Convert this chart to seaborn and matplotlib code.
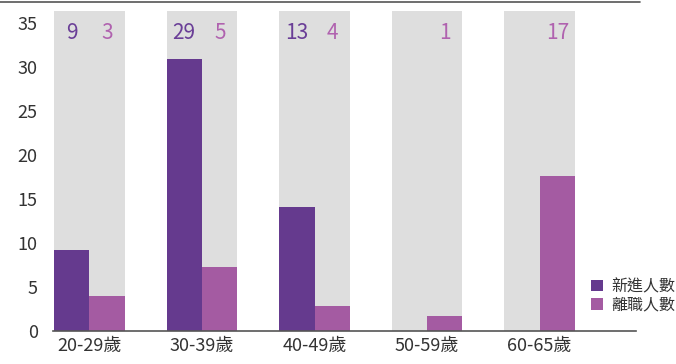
import pandas as pd
import seaborn as sns
import matplotlib.pyplot as plt
from matplotlib.lines import Line2D

# data (bar heights and the printed labels differ in the source)
ages = ['20-29歲', '30-39歲', '40-49歲', '50-59歲', '60-65歲']
new_hires = [9.2, 30.9, 14.1, 0, 0]
leavers = [4.0, 7.3, 2.8, 1.7, 17.6]
new_labels = ['9', '29', '13', '', '']
leave_labels = ['3', '5', '4', '1', '17']
series = ['新進人數', '離職人數']
ymax = 36.4

dark = '#653A8E'
light = '#A45BA2'

sns.set_style('white')
plt.rcParams['font.family'] = ['Noto Sans CJK TC', 'DejaVu Sans']

df = pd.DataFrame({
    'age': ages * 2,
    'count': new_hires + leavers,
    'series': [series[0]] * len(ages) + [series[1]] * len(ages)})

fig = plt.figure(figsize=(6.76, 3.64), dpi=100)
ax = fig.add_axes([0.0784, 0.0907, 0.8626, 0.8791])

# gray background columns
sns.barplot(x=ages, y=[ymax] * len(ages), color='#DEDEDE', width=0.63,
            saturation=1, linewidth=0, ax=ax, zorder=1)
sns.barplot(data=df, x='age', y='count', hue='series',
            palette=[dark, light], width=0.63, saturation=1, linewidth=0,
            ax=ax, zorder=2, legend=True)

# value labels at the top of each column
for i in range(len(ages)):
    ax.text(i - 0.158, 33.9, new_labels[i], color='#6A3E97', fontsize=15,
            ha='center', va='center')
    ax.text(i + 0.158, 33.9, leave_labels[i], color='#B062AF', fontsize=15,
            ha='center', va='center')

ax.set_xlim(-0.324, 4.858)
ax.set_ylim(0, ymax)
ax.set_yticks(range(0, 36, 5))
ax.set_xlabel('')
ax.set_ylabel('')
ax.tick_params(axis='y', length=0, pad=11, labelsize=13, labelcolor='#333333')
ax.tick_params(axis='x', length=0, pad=4, labelsize=13, labelcolor='#333333')
for side in ['top', 'right', 'left']:
    ax.spines[side].set_visible(False)
ax.spines['bottom'].set_color('#555555')
ax.spines['bottom'].set_linewidth(1.2)
ax.spines['bottom'].set_zorder(3)

ax.legend(loc='lower left', bbox_to_anchor=(0.874, 0.138),
          bbox_transform=fig.transFigure, frameon=False, fontsize=11.5,
          handlelength=0.75, handleheight=0.75, handletextpad=0.55,
          labelspacing=0.1, borderpad=0, borderaxespad=0,
          labelcolor='#333333')

# thin rule across the top of the figure
fig.add_artist(Line2D([0, 640 / 676], [0.995, 0.995], color='#555555',
                      linewidth=1.2, transform=fig.transFigure))

fig.savefig('out.png', dpi=100)
